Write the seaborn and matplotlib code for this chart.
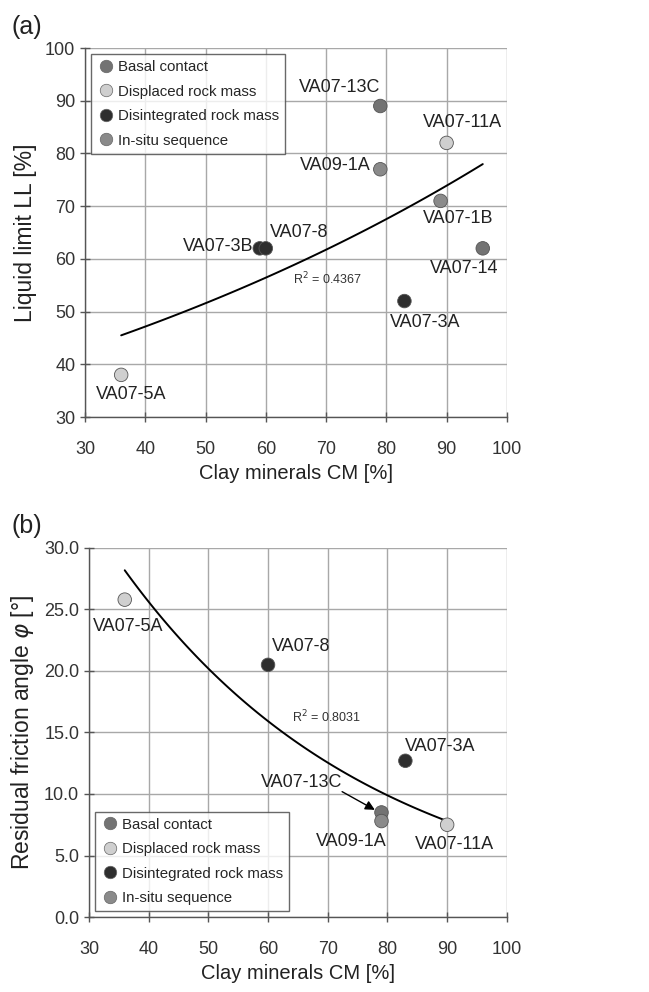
import numpy as np
import pandas as pd
import seaborn as sns
import matplotlib.pyplot as plt

# Sample data
groups = ["Basal contact", "Displaced rock mass", "Disintegrated rock mass", "In-situ sequence"]
colors = ["#737373", "#cfcfcf", "#2e2e2e", "#8a8a8a"]

# (a) liquid limit vs clay minerals
a_names = ["VA07-13C", "VA07-11A", "VA09-1A", "VA07-1B", "VA07-14", "VA07-3B", "VA07-8", "VA07-3A", "VA07-5A"]
a_cm = [79, 90, 79, 89, 96, 59, 60, 83, 36]
a_ll = [89, 82, 77, 71, 62, 62, 62, 52, 38]
a_group = ["Basal contact", "Displaced rock mass", "In-situ sequence", "In-situ sequence",
           "Basal contact", "Disintegrated rock mass", "Disintegrated rock mass",
           "Disintegrated rock mass", "Displaced rock mass"]
a_label_pos = [(79, 92.6, "right"), (92.7, 85.8, "center"), (77.4, 77.8, "right"),
               (91.9, 67.7, "center"), (92.9, 58.2, "center"), (57.9, 62.3, "right"),
               (60.6, 65.0, "left"), (86.4, 48.0, "center"), (37.6, 34.2, "center")]

# (b) residual friction angle vs clay minerals
b_names = ["VA07-5A", "VA07-8", "VA07-3A", "VA07-13C", "VA09-1A", "VA07-11A"]
b_cm = [36, 60, 83, 79, 79, 90]
b_phi = [25.8, 20.5, 12.7, 8.5, 7.8, 7.5]
b_group = ["Displaced rock mass", "Disintegrated rock mass", "Disintegrated rock mass",
           "Basal contact", "In-situ sequence", "Displaced rock mass"]
b_label_pos = [(36.5, 23.6, "center"), (60.6, 22.0, "left"), (83.0, 13.9, "left"),
               (65.6, 10.9, "center"), (74.0, 6.1, "center"), (91.3, 5.9, "center")]

# exponential trendlines y = a*exp(b*x)
a_fit = (32.93, 0.00898, 36, 96, "R$^2$ = 0.4367", (64.5, 55.2))
b_fit = (66.4, -0.0238, 36, 90, "R$^2$ = 0.8031", (64.0, 15.8))

sns.set_theme(style="white")
plt.rcParams['font.family'] = ['Liberation Sans', 'DejaVu Sans']

fig = plt.figure(figsize=(6.49, 9.92), dpi=100)
ax1 = fig.add_axes([0.131, 0.5796, 0.650, 0.372])
ax2 = fig.add_axes([0.137, 0.0756, 0.644, 0.372])

palette = dict(zip(groups, colors))


def draw(ax, names, cm, vals, grp, label_pos, fit, ylim, yticks, yfmt, ylabel, legend_loc):
    df = pd.DataFrame({"cm": cm, "val": vals, "group": grp})
    sns.scatterplot(data=df, x="cm", y="val", hue="group", hue_order=groups, palette=palette,
                    s=95, edgecolor="#555555", linewidth=0.6, ax=ax, zorder=4, legend=False)
    a, b, x0, x1, txt, tpos = fit
    xs = np.linspace(x0, x1, 100)
    ax.plot(xs, a * np.exp(b * xs), color="black", lw=1.4, zorder=3)
    ax.text(tpos[0], tpos[1], txt, fontsize=9, color="#333333")
    for n, (tx, ty, ha) in zip(names, label_pos):
        ax.text(tx, ty, n, ha=ha, va="center", fontsize=13, color="#222222", zorder=5)
    ax.set_xlim(30, 100)
    ax.set_ylim(*ylim)
    ax.set_xticks(range(30, 101, 10))
    ax.set_yticks(yticks)
    ax.set_yticklabels([yfmt.format(v) for v in yticks])
    ax.grid(True, color="#a8a8a8", lw=1.0)
    ax.set_axisbelow(True)
    for sp in ["top", "right"]:
        ax.spines[sp].set_visible(False)
    for sp in ["left", "bottom"]:
        ax.spines[sp].set_color("#555555")
        ax.spines[sp].set_linewidth(1.0)
    ax.tick_params(axis="both", direction="inout", length=7, width=1.0, color="#555555",
                   labelsize=13, labelcolor="#333333", left=True, bottom=True)
    ax.tick_params(axis="x", pad=14)
    ax.set_xlabel("Clay minerals CM [%]", fontsize=14.5, color="#222222", labelpad=4)
    ax.set_ylabel(ylabel, fontsize=16.5, color="#222222", labelpad=6)
    handles = [plt.Line2D([], [], marker="o", ls="", markersize=9, markerfacecolor=c,
                          markeredgecolor="#666666", markeredgewidth=0.5) for c in colors]
    leg = ax.legend(handles, groups, loc=legend_loc, fontsize=10.8, frameon=True,
                    fancybox=False, edgecolor="#444444", handletextpad=0.2,
                    borderpad=0.4, labelspacing=0.7, handlelength=1.2, borderaxespad=0.4)
    leg.get_frame().set_linewidth(1.0)
    leg.set_zorder(6)
    return ax


draw(ax1, a_names, a_cm, a_ll, a_group, a_label_pos, a_fit, (30, 100), list(range(30, 101, 10)),
     "{:d}", "Liquid limit LL [%]", "upper left")
draw(ax2, b_names, b_cm, b_phi, b_group, b_label_pos, b_fit, (0, 30),
     [0.0, 5.0, 10.0, 15.0, 20.0, 25.0, 30.0], "{:.1f}", "Residual friction angle $\\varphi$ [°]",
     "lower left")

# arrow pointing to VA07-13C in panel b
ax2.annotate("", xy=(78.3, 8.6), xytext=(72.0, 10.3),
             arrowprops=dict(arrowstyle="-|>", color="black", lw=1.0, mutation_scale=14))

fig.text(0.018, 0.985, "(a)", fontsize=18, va="top", color="#222222")
fig.text(0.018, 0.482, "(b)", fontsize=18, va="top", color="#222222")

fig.savefig("out.png", dpi=100)
